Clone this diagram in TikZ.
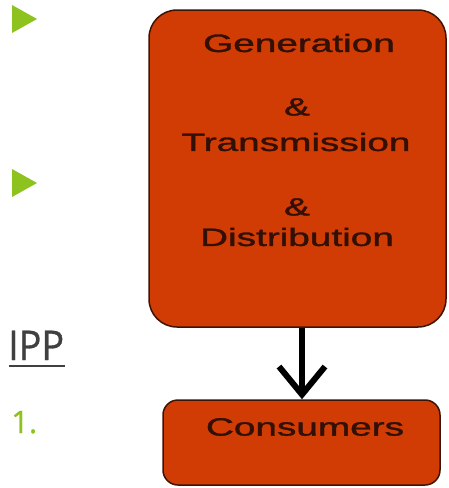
\documentclass[tikz,border=0pt]{standalone}
\usepackage{fontspec}
\setmainfont{Liberation Sans}
\newfontfamily\boxfont[FakeBold=1.2]{Liberation Sans}
\newfontfamily\ippfont[FakeBold=0.8]{Open Sans}
\usetikzlibrary{arrows.meta}
\definecolor{boxfill}{RGB}{208,60,4}
\definecolor{boxline}{RGB}{60,20,5}
\definecolor{boxtext}{RGB}{50,16,6}
\definecolor{bulletgreen}{RGB}{141,194,31}
\definecolor{ippgray}{RGB}{64,64,64}
\tikzset{
  flowbox/.style={draw=boxline, line width=1.5pt, fill=boxfill, inner sep=0pt},
  boxlabel/.style={text=boxtext, inner sep=0pt, font=\boxfont\fontsize{25}{30}\selectfont},
  bullet/.style={fill=bulletgreen, draw=none},
}
\newcommand{\wide}[1]{\scalebox{1.55}[1]{#1}}
\begin{document}
\begin{tikzpicture}[x=1pt,y=-1pt]
\useasboundingbox[fill=white] (0,0) rectangle (449,488);
% bullets
\fill[bullet] (12,5) -- (37,19) -- (12,33) -- cycle;
\fill[bullet] (12,169) -- (37,183) -- (12,197) -- cycle;
% IPP
\node[anchor=base west, inner sep=0pt, text=ippgray, font=\ippfont\fontsize{41}{48}\selectfont] (ipp) at (8,360) {\scalebox{0.92}[1]{IPP}};
\draw[ippgray, line width=2.5pt] (9,366) -- (65,366);
\node[anchor=base west, inner sep=0pt, text=bulletgreen, font=\ippfont\fontsize{31}{36}\selectfont] (one) at (11,433) {1.};
% boxes
\node[flowbox, rounded corners=28pt, minimum width=297pt, minimum height=317pt] (gen) at (297.5,168.5) {};
\node[flowbox, rounded corners=15pt, minimum width=277pt, minimum height=85pt] (cons) at (301.5,442.5) {};
% labels
\node[boxlabel] (l1) at (299,43) {\wide{Generation}};
\node[boxlabel] (l2) at (297,107) {\wide{\&}};
\node[boxlabel] (l3) at (296,142) {\wide{Transmission}};
\node[boxlabel] (l4) at (297,207) {\wide{\&}};
\node[boxlabel] (l5) at (297,237) {\wide{Distribution}};
\node[boxlabel] (l6) at (305,427) {\wide{Consumers}};
% arrow
\draw[line width=6pt, -{Straight Barb[length=28pt,width=46pt,line width=6pt]}] (gen.south -| 302,0) -- (cons.north -| 302,0);
\end{tikzpicture}
\end{document}
